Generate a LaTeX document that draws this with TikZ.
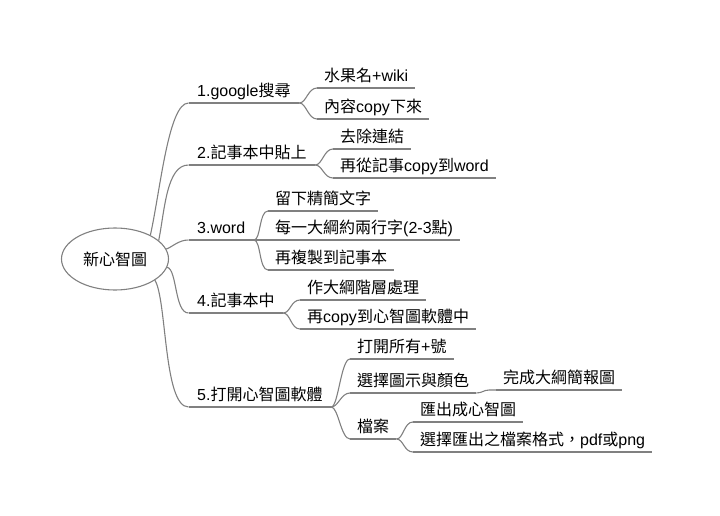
\documentclass[tikz,border=0pt]{standalone}
\usepackage{fontspec}
\usetikzlibrary{shapes.geometric}
\setmainfont{Liberation Sans}
\newfontfamily\zhfont{Noto Sans CJK TC}
\newcommand\zh[1]{{\zhfont #1}}
\definecolor{linegray}{RGB}{128,128,128}
\begin{document}
\begin{tikzpicture}[x=1pt,y=-1pt,
  every node/.style={font=\fontsize{16}{19}\selectfont, text=black},
  conn/.style={draw=linegray, line width=1.1pt},
  topic/.style={anchor=south west, inner xsep=7pt, inner ysep=3pt, text height=12pt, text depth=3.5pt},
  maintopic/.style={topic, inner xsep=8.5pt},
  rootnode/.style={ellipse, draw=linegray, line width=1.1pt, minimum width=107pt, minimum height=62pt, inner sep=0pt}]
\path[use as bounding box] (0,0) rectangle (720,516);

% root
\node[rootnode] (root) at (115,259) {\zh{新心智圖}};

% main topics
\node[maintopic] (t1) at (188.5,103) {1.google\zh{搜尋}};
\node[maintopic] (t2) at (188.5,165) {2.\zh{記事本中貼上}};
\node[maintopic] (t3) at (188.5,240) {3.word};
\node[maintopic] (t4) at (188.5,313) {4.\zh{記事本中}};
\node[maintopic] (t5) at (188.5,407) {5.\zh{打開心智圖軟體}};

% subtopics
\node[topic] (c11) at (317,88) {\zh{水果名}+wiki};
\node[topic] (c12) at (317,119) {\zh{內容}copy\zh{下來}};
\node[topic] (c21) at (333,149) {\zh{去除連結}};
\node[topic] (c22) at (333,178) {\zh{再從記事}copy\zh{到}word};
\node[topic] (c31) at (268,211) {\zh{留下精簡文字}};
\node[topic] (c32) at (268,240) {\zh{每一大綱約兩行字}(2-3\zh{點})};
\node[topic] (c33) at (268,270) {\zh{再複製到記事本}};
\node[topic] (c41) at (300,300) {\zh{作大綱階層處理}};
\node[topic] (c42) at (300,329) {\zh{再}copy\zh{到心智圖軟體中}};
\node[topic] (c51) at (350,359) {\zh{打開所有}+\zh{號}};
\node[topic] (c52) at (350,393) {\zh{選擇圖示與顏色}};
\node[topic] (c521) at (496,390) {\zh{完成大綱簡報圖}};
\node[topic] (c53) at (350,439) {\zh{檔案}};
\node[topic] (c531) at (413,422) {\zh{匯出成心智圖}};
\node[topic] (c532) at (413,452) {\zh{選擇匯出之檔案格式，}pdf\zh{或}png};

% underlines
\foreach \n in {t1,t2,t3,t4,t5,c11,c12,c21,c22,c31,c32,c33,c41,c42,c51,c52,c521,c53,c531,c532}
  \draw[conn] (\n.south west) -- (\n.south east);

% root to main topics
\draw[conn] (root.34) .. controls +(10,-45) and +(-20,0) .. (t1.south west);
\draw[conn] (root.23) .. controls +(6,-30) and +(-22,0) .. (t2.south west);
\draw[conn] (root.11) .. controls +(6,-2) and +(-10,0) .. (t3.south west);
\draw[conn] (root.-9) .. controls +(10,2) and +(-14,0) .. (t4.south west);
\draw[conn] (root.-28) .. controls +(12,20) and +(-25,0) .. (t5.south west);

% braces to subtopics
\foreach \p/\c in {t1/c11,t1/c12,t2/c21,t2/c22,t3/c31,t3/c32,t3/c33,t4/c41,t4/c42,t5/c51,t5/c52,t5/c53,c53/c531,c53/c532}
  \draw[conn] (\p.south east) .. controls +(7,0) and +(-9,0) .. (\c.south west);
\draw[conn] (c52.south east) .. controls +(6,0) and +(-6,0) .. ++(13,-3) -- (c521.south west);
\end{tikzpicture}
\end{document}
